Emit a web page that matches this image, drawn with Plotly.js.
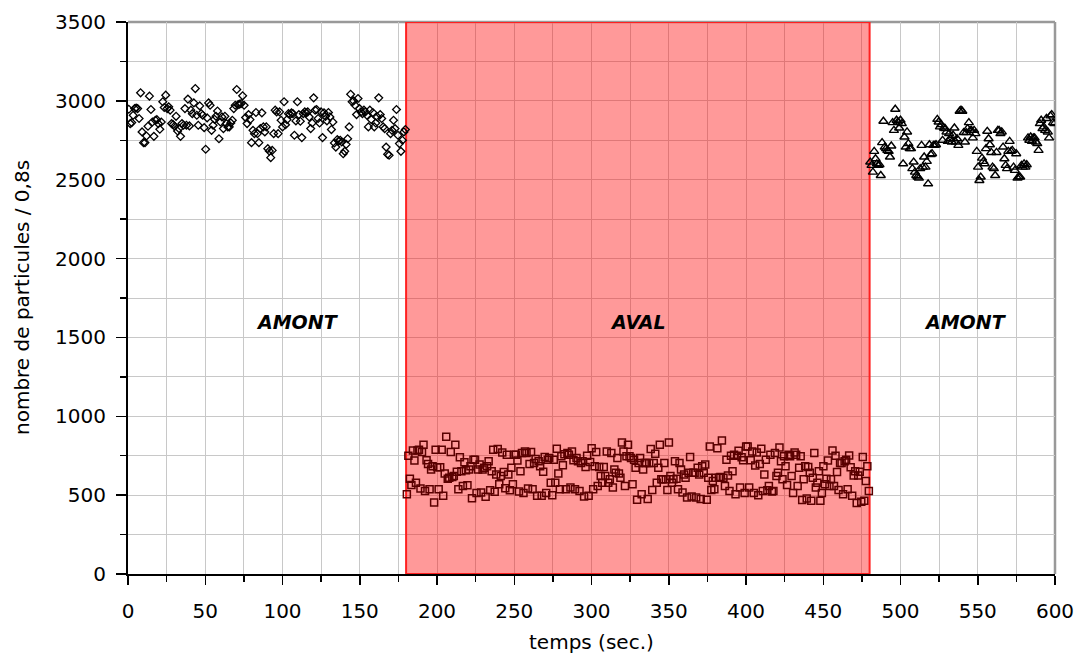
<!DOCTYPE html>
<html><head><meta charset="utf-8">
<script src="https://cdn.plot.ly/plotly-3.0.1.min.js"></script>
<style>body{margin:0;background:#fff}#chart{width:1080px;height:659px}</style>
</head><body><div id="chart"></div>
<script>
// Time segments (seconds)
const segStart = [0, 180, 480];
const segEnd   = [180, 480, 600];
const zoneLabels = ['AMONT', 'AVAL', 'AMONT'];
const zoneLabelX = [110, 330, 542];
const zoneLabelY = 1600;
const xTitle = 'temps (sec.)';
const yTitle = 'nombre de particules / 0,8s';

// AMONT (0-180 s), counts / 0.8 s
const amont1 = [2947,2856,2862,2909,2951,2955,2951,2888,3051,2803,2735,2735,2777,2839,3030,2945,2866,2775,2877,2881,2856,2820,2866,2994,2958,3036,2951,2962,2941,2856,2849,2839,2902,2809,2824,2775,2856,2845,2951,2845,3011,2841,2941,2919,2987,3078,2909,2845,2968,2919,2909,2830,2693,2892,2987,2972,2813,2845,2883,2902,2936,2760,2866,2898,2824,2902,2856,2835,2835,2860,2877,2951,2972,3072,2977,2979,2983,3032,2972,2894,2856,2913,2881,2735,2813,2792,2926,2792,2735,2824,2924,2835,2803,2835,
2697,2682,2640,2686,2792,2941,2930,2792,2930,2877,2835,2994,2849,2881,2919,2913,2924,2919,2782,2873,2994,2913,2871,2767,2919,2930,2924,2930,2898,2824,2860,3019,2941,2945,2888,2860,2930,2767,2924,2902,2873,2926,2898,2818,2866,2733,2707,2754,2746,2750,2739,2665,2680,2724,2760,2835,3042,2994,3000,2972,2913,3015,2951,2930,2919,2941,2930,2909,2835,2941,2881,2926,2835,2860,2898,3019,2913,2888,2835,2824,2707,2661,2655,2792,2813,2877,2824,2945,2782,2729,2680,2750,2803,2818];

// AVAL (180-480 s)
const aval = [506,750,604,565,783,719,579,783,788,542,773,819,527,721,698,537,663,683,454,788,677,537,677,788,496,637,871,604,610,773,615,621,819,648,537,740,652,558,708,658,563,663,683,481,725,725,513,663,694,517,663,673,490,683,715,531,652,788,521,631,792,569,621,771,646,544,756,631,531,673,569,756,756,719,523,652,767,513,777,767,542,698,773,537,704,729,496,715,683,496,648,742,513,725,735,579,500,725,579,
794,637,537,746,690,760,537,767,756,548,777,721,537,735,715,527,704,715,492,679,750,496,710,798,537,683,773,558,679,621,579,679,621,777,579,600,767,548,663,642,735,637,610,833,777,558,746,819,746,735,569,725,673,471,704,735,506,663,704,704,475,704,792,533,704,762,579,673,819,600,600,704,600,533,833,621,579,600,715,604,537,704,663,517,631,610,485,642,742,492,642,642,485,673,631,475,683,642,694,471,610,808,533,590,
537,610,798,610,615,846,610,558,725,625,527,750,652,756,506,750,781,548,740,721,513,808,808,548,721,777,513,688,771,500,698,794,527,631,725,531,558,756,523,527,767,621,642,802,715,600,746,683,565,756,746,621,513,771,756,558,673,746,469,600,683,479,679,642,465,610,767,548,579,652,465,513,683,569,604,719,558,600,783,558,750,646,533,704,704,506,715,725,537,752,677,496,625,652,450,625,648,458,742,465,590,683,527];

// AMONT (480-600 s)
const amont2 = [2612,2591,2548,2680,2633,2601,2591,2595,2527,2735,2871,2707,2697,2686,2680,2644,2714,2862,2813,2947,2877,2866,2828,2877,2856,2601,2771,2707,2803,2729,2697,2697,2570,2612,2548,2527,2517,2510,2570,2718,2580,2644,2580,2616,2474,2722,2659,2665,2718,2718,2722,2883,2866,2835,2849,2750,2828,2824,2803,2743,2792,2760,2739,2782,2828,2739,2760,2718,2934,2941,2934,2799,2739,2799,2824,2862,2813,2813,2765,2813,2792,2680,2580,2495,2517,2637,2616,2601,2697,2807,2760,2722,2673,2580,2570,2527,2673,2813,2813,2792,2803,2707,2633,2591,2570,2680,2743,2680,2686,2580,2559,2665,2510,2517,2517,2591,2580,2601,2580,2595,2765,2750,2771,2743,2765,2765,2739,2729,2686,2856,2877,2824,2835,2813,2888,2803,2765,2905,2913,2862,2856];

function times(i, n) {
  const step = (segEnd[i] - segStart[i]) / n;
  return Array.from({length: n}, (_, k) => segStart[i] + (k + 0.5) * step);
}

const traces = [
  {x: times(0, amont1.length), y: amont1, type: 'scatter', mode: 'markers',
   marker: {symbol: 'diamond-open', size: 6, color: '#000', line: {width: 1.3}}},
  {x: times(1, aval.length), y: aval, type: 'scatter', mode: 'markers',
   marker: {symbol: 'square-open', size: 7, color: '#5a0000', line: {width: 1.5}}},
  {x: times(2, amont2.length), y: amont2, type: 'scatter', mode: 'markers',
   marker: {symbol: 'triangle-up-open', size: 8, color: '#000', line: {width: 1.4}}}
];

const font = 'DejaVu Sans, Verdana, sans-serif';
const layout = {
  width: 1080, height: 659,
  margin: {l: 128, r: 25, t: 22, b: 85},
  paper_bgcolor: '#fff', plot_bgcolor: '#fff',
  showlegend: false,
  font: {family: font, size: 20, color: '#000'},
  xaxis: {
    range: [0, 600], dtick: 50, tick0: 0,
    showline: true, linecolor: '#000', linewidth: 2,
    ticks: 'outside', ticklen: 9, tickwidth: 1.5, tickcolor: '#000',
    showgrid: true, gridcolor: '#c8c8c8', gridwidth: 1,
    zeroline: false,
    minor: {dtick: 25, showgrid: true, gridcolor: '#c8c8c8', ticks: 'outside', ticklen: 6, tickcolor: '#000'},
    ticklabelstandoff: 9,
    tickfont: {size: 20}
  },
  yaxis: {
    range: [0, 3500], dtick: 500, tick0: 0,
    showline: true, linecolor: '#000', linewidth: 2,
    ticks: 'outside', ticklen: 10, tickwidth: 1.5, tickcolor: '#000',
    showgrid: true, gridcolor: '#c8c8c8', gridwidth: 1,
    zeroline: false,
    minor: {dtick: 250, showgrid: true, gridcolor: '#c8c8c8', ticks: 'outside', ticklen: 6, tickcolor: '#000'},
    ticklabelstandoff: 6,
    tickfont: {size: 20}
  },
  shapes: [
    {type: 'rect', xref: 'x', yref: 'y', x0: segStart[1], x1: segEnd[1], y0: 0, y1: 3500,
     fillcolor: 'rgba(255,0,0,0.4)', line: {color: '#ff2020', width: 2}, layer: 'between'},
    {type: 'line', xref: 'paper', yref: 'paper', x0: 1, x1: 1, y0: 0, y1: 1,
     line: {color: '#999', width: 2.5}, layer: 'below'},
    {type: 'line', xref: 'paper', yref: 'paper', x0: 0, x1: 1, y0: 1, y1: 1,
     line: {color: '#999', width: 2.5}, layer: 'below'}
  ],
  annotations: zoneLabels.map((t, i) => ({
    x: zoneLabelX[i], y: zoneLabelY, xref: 'x', yref: 'y', text: '<b><i>' + t + '</i></b>',
    showarrow: false, font: {size: 19, family: font, color: '#000'}
  })).concat([
    {x: 0.5, y: 0, xref: 'paper', yref: 'paper', yanchor: 'middle', yshift: -68,
     text: xTitle, showarrow: false, font: {size: 20, family: font, color: '#000'}},
    {x: 0, y: 0.5, xref: 'paper', yref: 'paper', xanchor: 'center', xshift: -106, textangle: -90,
     text: yTitle, showarrow: false, font: {size: 20, family: font, color: '#000'}}
  ])
};

Plotly.newPlot('chart', traces, layout, {displayModeBar: false, staticPlot: true});
</script>
</body></html>
